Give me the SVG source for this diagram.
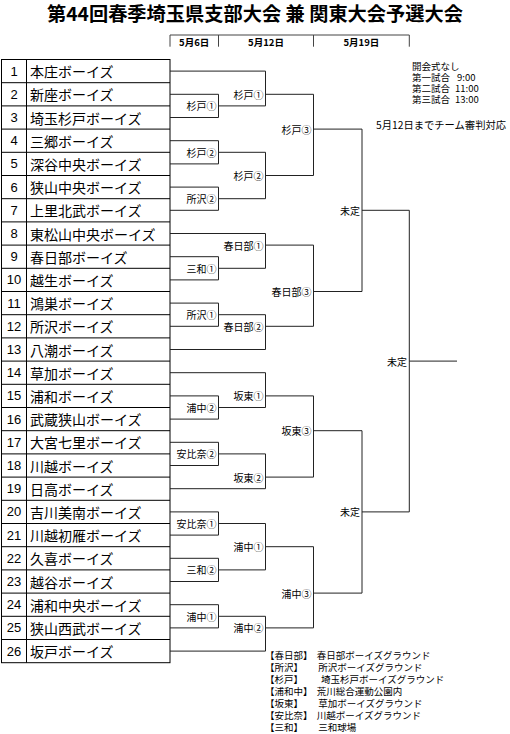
<svg xmlns="http://www.w3.org/2000/svg" width="510" height="734" viewBox="0 0 510 734">
<style>
text{font-family:"Noto Sans CJK JP","Noto Sans CJK SC",sans-serif;fill:#000}
.title{font-size:19px;font-weight:bold}
.date{font-size:9.5px;font-weight:bold;text-anchor:middle;dominant-baseline:central}
.num{font-family:"Liberation Sans","Noto Sans CJK JP",sans-serif;font-size:13px;text-anchor:middle;dominant-baseline:central}
.name{font-size:14px;dominant-baseline:central}
.lbl{font-size:10px;text-anchor:end;dominant-baseline:central}
.note{font-size:9.5px;dominant-baseline:central}
.leg{font-size:9.5px;dominant-baseline:central}
.grid{stroke:#000;stroke-width:1;fill:none}
.ln{stroke:#222;stroke-width:1;fill:none}
.hd{stroke:#444;stroke-width:1;fill:none}
</style>
<rect x="0" y="0" width="510" height="734" fill="#fff"/>
<text class="title" x="255" y="21" text-anchor="middle" textLength="416" lengthAdjust="spacingAndGlyphs">第44回春季埼玉県支部大会 兼 関東大会予選大会</text>
<g id="dates">
<path class="hd" d="M170 35H409.3M170 35V46.7M218.5 35V46.7M313.5 35V46.7M409.3 35V46.7"/>
<text class="date" x="194.2" y="41.5">5月6日</text>
<text class="date" x="266" y="41.5">5月12日</text>
<text class="date" x="361.4" y="41.5">5月19日</text>
</g>
<g id="notes">
<text class="note" x="412" y="65.7">開会式なし</text>
<text class="note" x="412" y="77">第一試合</text><text class="note" x="457" y="77">9:00</text>
<text class="note" x="412" y="88">第二試合</text><text class="note" x="455" y="88">11:00</text>
<text class="note" x="412" y="99">第三試合</text><text class="note" x="455" y="99">13:00</text>
<text class="note" x="376" y="124" style="font-size:10.5px" textLength="130" lengthAdjust="spacingAndGlyphs">5月12日までチーム審判対応</text>
</g>
<g id="table">
<rect class="grid" x="1.5" y="59.5" width="168.5" height="603.2"/>
<path class="grid" d="M26.5 59.5V662.7M1.5 82.7H170M1.5 105.9H170M1.5 129.1H170M1.5 152.3H170M1.5 175.5H170M1.5 198.7H170M1.5 221.9H170M1.5 245.1H170M1.5 268.3H170M1.5 291.5H170M1.5 314.7H170M1.5 337.9H170M1.5 361.1H170M1.5 384.3H170M1.5 407.5H170M1.5 430.7H170M1.5 453.9H170M1.5 477.1H170M1.5 500.3H170M1.5 523.5H170M1.5 546.7H170M1.5 569.9H170M1.5 593.1H170M1.5 616.3H170M1.5 639.5H170"/>
</g>
<g id="team-1"><text class="num" x="14" y="71.1">1</text><text class="name" x="30" y="71.1">本庄ボーイズ</text></g>
<g id="team-2"><text class="num" x="14" y="94.3">2</text><text class="name" x="30" y="94.3">新座ボーイズ</text></g>
<g id="team-3"><text class="num" x="14" y="117.5">3</text><text class="name" x="30" y="117.5">埼玉杉戸ボーイズ</text></g>
<g id="team-4"><text class="num" x="14" y="140.7">4</text><text class="name" x="30" y="140.7">三郷ボーイズ</text></g>
<g id="team-5"><text class="num" x="14" y="163.9">5</text><text class="name" x="30" y="163.9">深谷中央ボーイズ</text></g>
<g id="team-6"><text class="num" x="14" y="187.1">6</text><text class="name" x="30" y="187.1">狭山中央ボーイズ</text></g>
<g id="team-7"><text class="num" x="14" y="210.3">7</text><text class="name" x="30" y="210.3">上里北武ボーイズ</text></g>
<g id="team-8"><text class="num" x="14" y="233.5">8</text><text class="name" x="30" y="233.5">東松山中央ボーイズ</text></g>
<g id="team-9"><text class="num" x="14" y="256.7">9</text><text class="name" x="30" y="256.7">春日部ボーイズ</text></g>
<g id="team-10"><text class="num" x="14" y="279.9">10</text><text class="name" x="30" y="279.9">越生ボーイズ</text></g>
<g id="team-11"><text class="num" x="14" y="303.1">11</text><text class="name" x="30" y="303.1">鴻巣ボーイズ</text></g>
<g id="team-12"><text class="num" x="14" y="326.3">12</text><text class="name" x="30" y="326.3">所沢ボーイズ</text></g>
<g id="team-13"><text class="num" x="14" y="349.5">13</text><text class="name" x="30" y="349.5">八潮ボーイズ</text></g>
<g id="team-14"><text class="num" x="14" y="372.7">14</text><text class="name" x="30" y="372.7">草加ボーイズ</text></g>
<g id="team-15"><text class="num" x="14" y="395.9">15</text><text class="name" x="30" y="395.9">浦和ボーイズ</text></g>
<g id="team-16"><text class="num" x="14" y="419.1">16</text><text class="name" x="30" y="419.1">武蔵狭山ボーイズ</text></g>
<g id="team-17"><text class="num" x="14" y="442.3">17</text><text class="name" x="30" y="442.3">大宮七里ボーイズ</text></g>
<g id="team-18"><text class="num" x="14" y="465.5">18</text><text class="name" x="30" y="465.5">川越ボーイズ</text></g>
<g id="team-19"><text class="num" x="14" y="488.7">19</text><text class="name" x="30" y="488.7">日高ボーイズ</text></g>
<g id="team-20"><text class="num" x="14" y="511.9">20</text><text class="name" x="30" y="511.9">吉川美南ボーイズ</text></g>
<g id="team-21"><text class="num" x="14" y="535.1">21</text><text class="name" x="30" y="535.1">川越初雁ボーイズ</text></g>
<g id="team-22"><text class="num" x="14" y="558.3">22</text><text class="name" x="30" y="558.3">久喜ボーイズ</text></g>
<g id="team-23"><text class="num" x="14" y="581.5">23</text><text class="name" x="30" y="581.5">越谷ボーイズ</text></g>
<g id="team-24"><text class="num" x="14" y="604.7">24</text><text class="name" x="30" y="604.7">浦和中央ボーイズ</text></g>
<g id="team-25"><text class="num" x="14" y="627.9">25</text><text class="name" x="30" y="627.9">狭山西武ボーイズ</text></g>
<g id="team-26"><text class="num" x="14" y="651.1">26</text><text class="name" x="30" y="651.1">坂戸ボーイズ</text></g>
<g id="connectors">
<path class="ln" d="M170 71.1H265.5M170 233.5H265.5M170 349.5H265.5M170 372.7H265.5M170 488.7H265.5M170 651.1H265.5"/>
<path class="ln" d="M170 94.3H218.5V117.5H170M218.5 105.9H265.5"/>
<path class="ln" d="M170 140.7H218.5V163.9H170M218.5 152.3H265.5"/>
<path class="ln" d="M170 187.1H218.5V210.3H170M218.5 198.7H265.5"/>
<path class="ln" d="M170 256.7H218.5V279.9H170M218.5 268.3H265.5"/>
<path class="ln" d="M170 303.1H218.5V326.3H170M218.5 314.7H265.5"/>
<path class="ln" d="M170 395.9H218.5V419.1H170M218.5 407.5H265.5"/>
<path class="ln" d="M170 442.3H218.5V465.5H170M218.5 453.9H265.5"/>
<path class="ln" d="M170 511.9H218.5V535.1H170M218.5 523.5H265.5"/>
<path class="ln" d="M170 558.3H218.5V581.5H170M218.5 569.9H265.5"/>
<path class="ln" d="M170 604.7H218.5V627.9H170M218.5 616.3H265.5"/>
<path class="ln" d="M265.5 71.1V105.9M265.5 94.3H313.5"/>
<path class="ln" d="M265.5 152.3V198.7M265.5 175.5H313.5"/>
<path class="ln" d="M265.5 233.5V268.3M265.5 245.1H313.5"/>
<path class="ln" d="M265.5 314.7V349.5M265.5 326.3H313.5"/>
<path class="ln" d="M265.5 372.7V407.5M265.5 395.9H313.5"/>
<path class="ln" d="M265.5 453.9V488.7M265.5 477.1H313.5"/>
<path class="ln" d="M265.5 523.5V569.9M265.5 546.7H313.5"/>
<path class="ln" d="M265.5 616.3V651.1M265.5 627.9H313.5"/>
<path class="ln" d="M313.5 94.3V175.5M313.5 129.1H362"/>
<path class="ln" d="M313.5 245.1V326.3M313.5 291.5H362"/>
<path class="ln" d="M313.5 395.9V477.1M313.5 430.7H362"/>
<path class="ln" d="M313.5 546.7V627.9M313.5 593.1H362"/>
<path class="ln" d="M362 129.1V291.5M362 210.3H409.3"/>
<path class="ln" d="M362 430.7V593.1M362 511.9H409.3"/>
<path class="ln" d="M409.3 210.3V511.9M409.3 361.1H457"/>
</g>
<g id="m-r1-sugito1"><text class="lbl" x="216.5" y="105.9">杉戸①</text></g>
<g id="m-r1-sugito2"><text class="lbl" x="216.5" y="152.3">杉戸②</text></g>
<g id="m-r1-tokorozawa2"><text class="lbl" x="216.5" y="198.7">所沢②</text></g>
<g id="m-r1-sanwa1"><text class="lbl" x="216.5" y="268.3">三和①</text></g>
<g id="m-r1-tokorozawa1"><text class="lbl" x="216.5" y="314.7">所沢①</text></g>
<g id="m-r1-uranaka2"><text class="lbl" x="216.5" y="407.5">浦中②</text></g>
<g id="m-r1-abina2"><text class="lbl" x="216.5" y="453.9">安比奈②</text></g>
<g id="m-r1-abina1"><text class="lbl" x="216.5" y="523.5">安比奈①</text></g>
<g id="m-r1-sanwa2"><text class="lbl" x="216.5" y="569.9">三和②</text></g>
<g id="m-r1-uranaka1"><text class="lbl" x="216.5" y="616.3">浦中①</text></g>
<g id="m-r2-sugito1"><text class="lbl" x="263.5" y="94.3">杉戸①</text></g>
<g id="m-r2-sugito2"><text class="lbl" x="263.5" y="175.5">杉戸②</text></g>
<g id="m-r2-kasukabe1"><text class="lbl" x="263.5" y="245.1">春日部①</text></g>
<g id="m-r2-kasukabe2"><text class="lbl" x="263.5" y="326.3">春日部②</text></g>
<g id="m-r2-bando1"><text class="lbl" x="263.5" y="395.9">坂東①</text></g>
<g id="m-r2-bando2"><text class="lbl" x="263.5" y="477.1">坂東②</text></g>
<g id="m-r2-uranaka1"><text class="lbl" x="263.5" y="546.7">浦中①</text></g>
<g id="m-r2-uranaka2"><text class="lbl" x="263.5" y="627.9">浦中②</text></g>
<g id="m-r3-sugito3"><text class="lbl" x="311.5" y="129.1">杉戸③</text></g>
<g id="m-r3-kasukabe3"><text class="lbl" x="311.5" y="291.5">春日部③</text></g>
<g id="m-r3-bando3"><text class="lbl" x="311.5" y="430.7">坂東③</text></g>
<g id="m-r3-uranaka3"><text class="lbl" x="311.5" y="593.1">浦中③</text></g>
<g id="m-sf1"><text class="lbl" x="360" y="210.3">未定</text></g>
<g id="m-sf2"><text class="lbl" x="360" y="511.9">未定</text></g>
<g id="m-final"><text class="lbl" x="407" y="361.1">未定</text></g>
<g id="legend">
<text class="leg" x="265" y="655">【春日部】</text><text class="leg" x="316.7" y="655">春日部ボーイズグラウンド</text>
<text class="leg" x="265" y="667">【所沢】</text><text class="leg" x="318.3" y="667">所沢ボーイズグラウンド</text>
<text class="leg" x="265" y="679">【杉戸】</text><text class="leg" x="321" y="679">埼玉杉戸ボーイズグラウンド</text>
<text class="leg" x="265" y="691">【浦和中】</text><text class="leg" x="316.7" y="691">荒川総合運動公園内</text>
<text class="leg" x="265" y="703">【坂東】</text><text class="leg" x="318.3" y="703">草加ボーイズグラウンド</text>
<text class="leg" x="265" y="715">【安比奈】</text><text class="leg" x="316.7" y="715">川越ボーイズグラウンド</text>
<text class="leg" x="265" y="727">【三和】</text><text class="leg" x="318.3" y="727">三和球場</text>
</g>
</svg>
